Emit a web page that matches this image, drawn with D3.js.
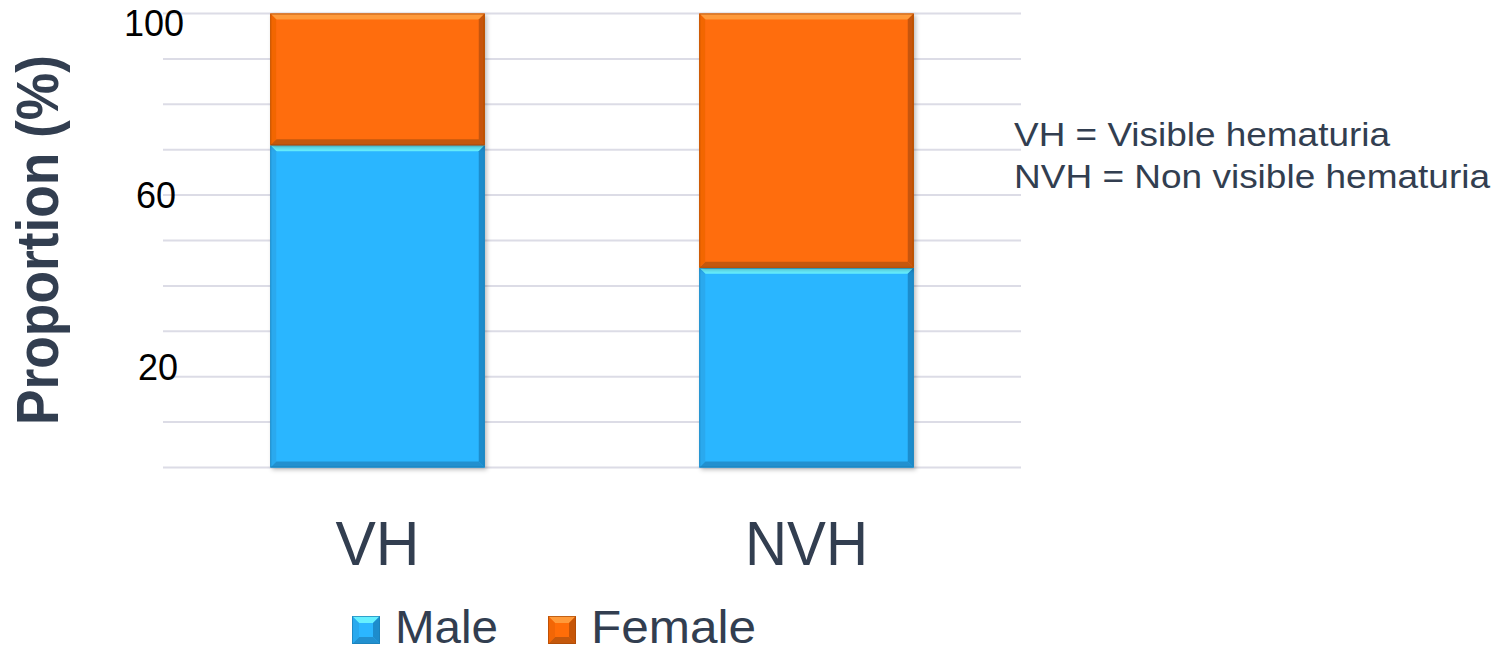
<!DOCTYPE html>
<html>
<head>
<meta charset="utf-8">
<script src="https://cdn.jsdelivr.net/npm/d3@7"></script>
<style>
  html, body { margin: 0; padding: 0; background: #ffffff; }
  svg { display: block; }
</style>
</head>
<body>
<svg id="chart" width="1501" height="653"></svg>
<script>
// ---- data ----
const categories = ["VH", "NVH"];
const seriesNames = ["Male", "Female"];
const maleValues = [71, 44];
const femaleValues = [29, 56];
const yTickLabels = [20, 60, 100];
const gridValues = [0, 10, 20, 30, 40, 50, 60, 70, 80, 90, 100];
const notes = ["VH = Visible hematuria", "NVH = Non visible hematuria"];
const yTitle = "Proportion (%)";

// ---- styles ----
const palette = {
  Male:   { base: "#2bb6ff", top: "#66f0ff", left: "#29a9ee", right: "#1d8ccc", bottom: "#2290cf", stroke: "#1a7db5" },
  Female: { base: "#ff6d08", top: "#ff9a3a", left: "#f26606", right: "#c65507", bottom: "#c4580c", stroke: "#a94905" }
};
const textColor = "#323e50";

const svg = d3.select("#chart");

const x = d3.scaleBand().domain(categories).range([163, 1021]).paddingInner(0.5).paddingOuter(0.25);
const y = d3.scaleLinear().domain([0, 100]).range([467.5, 13.5]);

const table = categories.map((c, i) => ({ category: c, Male: maleValues[i], Female: femaleValues[i] }));
const stacked = d3.stack().keys(seriesNames)(table);

const defs = svg.append("defs");
const f = defs.append("filter").attr("id", "shadow").attr("x", "-10%").attr("y", "-10%").attr("width", "130%").attr("height", "130%");
f.append("feDropShadow").attr("dx", 2).attr("dy", 2).attr("stdDeviation", 2).attr("flood-color", "#000").attr("flood-opacity", 0.25);

// gridlines
svg.append("g").selectAll("line").data(gridValues).join("line")
  .attr("x1", 163).attr("x2", 1021)
  .attr("y1", d => y(d)).attr("y2", d => y(d))
  .attr("stroke", "#dcdce6").attr("stroke-width", 2);

// y tick labels (with small nudges to match the reference placement)
const tickNudge = { 20: [0, 3], 60: [-2, 13], 100: [6, 22] };
svg.append("g").selectAll("text").data(yTickLabels).join("text")
  .attr("x", d => 178 + tickNudge[d][0])
  .attr("y", d => y(d) + tickNudge[d][1])
  .attr("text-anchor", "end")
  .attr("font-family", "Liberation Sans, Arial, sans-serif")
  .attr("font-size", 36)
  .attr("fill", "#000")
  .text(d => d);

function bevel(g, x0, y0, x1, y1, c, b) {
  g.append("rect").attr("x", x0).attr("y", y0).attr("width", x1 - x0).attr("height", y1 - y0).attr("fill", c.base);
  const poly = (pts, fill) => g.append("polygon").attr("points", pts.map(p => p.join(",")).join(" ")).attr("fill", fill);
  poly([[x0, y0], [x1, y0], [x1 - b, y0 + b], [x0 + b, y0 + b]], c.top);
  poly([[x0, y1], [x1, y1], [x1 - b, y1 - b], [x0 + b, y1 - b]], c.bottom);
  poly([[x0, y0], [x0 + b, y0 + b], [x0 + b, y1 - b], [x0, y1]], c.left);
  poly([[x1, y0], [x1 - b, y0 + b], [x1 - b, y1 - b], [x1, y1]], c.right);
  g.append("rect").attr("x", x0 + 0.5).attr("y", y0 + 0.5).attr("width", x1 - x0 - 1).attr("height", y1 - y0 - 1)
    .attr("fill", "none").attr("stroke", c.stroke).attr("stroke-width", 1).attr("stroke-opacity", 0.7);
}

// bars
const barsG = svg.append("g");
stacked.forEach(layer => {
  layer.forEach(seg => {
    const g = barsG.append("g").attr("filter", "url(#shadow)");
    const x0 = x(seg.data.category), x1 = x0 + x.bandwidth();
    bevel(g, x0, y(seg[1]), x1, y(seg[0]), palette[layer.key], 6);
  });
});

// category labels
svg.append("g").selectAll("text").data(categories).join("text")
  .attr("x", d => x(d) + x.bandwidth() / 2)
  .attr("y", 565)
  .attr("text-anchor", "middle")
  .attr("font-family", "Liberation Sans, Arial, sans-serif")
  .attr("font-size", 63)
  .attr("fill", textColor)
  .attr("textLength", d => d.length === 2 ? 84 : 123)
  .attr("lengthAdjust", "spacingAndGlyphs")
  .text(d => d);

// y title
svg.append("text")
  .attr("transform", "translate(58,240) rotate(-90)")
  .attr("text-anchor", "middle")
  .attr("font-family", "Liberation Sans, Arial, sans-serif")
  .attr("font-weight", "bold")
  .attr("font-size", 60)
  .attr("fill", textColor)
  .attr("textLength", 370)
  .attr("lengthAdjust", "spacingAndGlyphs")
  .text(yTitle);

// notes
svg.append("g").selectAll("text").data(notes).join("text")
  .attr("x", 1014)
  .attr("y", (d, i) => 146 + i * 42)
  .attr("font-family", "Liberation Sans, Arial, sans-serif")
  .attr("font-size", 33)
  .attr("fill", textColor)
  .attr("textLength", (d, i) => i === 0 ? 376 : 476)
  .attr("lengthAdjust", "spacingAndGlyphs")
  .text(d => d);

// legend
const legendX = { Male: 352, Female: 548 };
const legendLen = { Male: 103, Female: 165 };
const lg = svg.append("g");
seriesNames.forEach(name => {
  const g = lg.append("g");
  bevel(g.append("g"), legendX[name], 616, legendX[name] + 28, 644, palette[name], 7);
  g.append("text")
    .attr("x", legendX[name] + 43)
    .attr("y", 643)
    .attr("font-family", "Liberation Sans, Arial, sans-serif")
    .attr("font-size", 46)
    .attr("fill", textColor)
    .attr("textLength", legendLen[name])
    .attr("lengthAdjust", "spacingAndGlyphs")
    .text(name);
});
</script>
</body>
</html>
